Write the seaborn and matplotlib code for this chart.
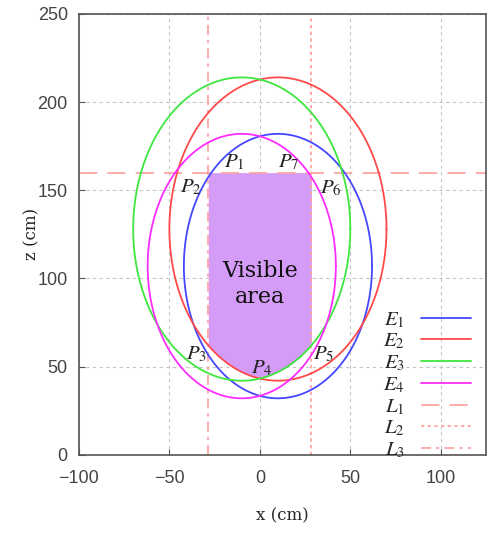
import numpy as np
import pandas as pd
import matplotlib
matplotlib.use("Agg")
import matplotlib.pyplot as plt
import seaborn as sns

# ellipse parameters (center x, center z, semi-axis x, semi-axis z)
ell_names = ["$E_1$", "$E_2$", "$E_3$", "$E_4$"]
ell_cx = [10, 10, -10, -10]
ell_cz = [107, 128, 128, 107]
ell_ax = [52, 60, 60, 52]
ell_bz = [75, 86, 86, 75]
ell_colors = ["#4646ff", "#ff4a4a", "#3ee63e", "#ff2cff"]

# boundary lines
line_names = ["$L_1$", "$L_2$", "$L_3$"]
L1_z = 160
L2_x = 28.5
L3_x = -28.5
line_color = "#ff9e9e"

# point labels
pt_labels = ["$P_1$", "$P_2$", "$P_3$", "$P_4$", "$P_5$", "$P_6$", "$P_7$"]
pt_x = [-14, -38, -35, 1, 35, 39, 16]
pt_z = [166, 152, 57, 49, 57, 151, 166]

sns.set_style("white")
plt.rcParams["mathtext.fontset"] = "stix"

fig = plt.figure(figsize=(4.87, 5.35), dpi=100)
ax = fig.add_axes([0.162, 0.150, 0.836, 0.824])

# visible area = intersection of all ellipses inside the three lines
xs = np.linspace(L3_x, L2_x, 400)
lower = np.full_like(xs, -np.inf)
upper = np.full_like(xs, L1_z, dtype=float)
for cx, cz, a, b in zip(ell_cx, ell_cz, ell_ax, ell_bz):
    h = b * np.sqrt(np.clip(1 - ((xs - cx) / a) ** 2, 0, None))
    lower = np.maximum(lower, cz - h)
    upper = np.minimum(upper, cz + h)
ax.fill_between(xs, lower, upper, color="#d49cf6", lw=0, zorder=1)

t = np.linspace(0, 2 * np.pi, 400)
for name, cx, cz, a, b, c in zip(ell_names, ell_cx, ell_cz, ell_ax, ell_bz, ell_colors):
    df = pd.DataFrame({"x": cx + a * np.cos(t), "z": cz + b * np.sin(t)})
    sns.lineplot(data=df, x="x", y="z", sort=False, estimator=None,
                 color=c, lw=1.3, ax=ax, label=name, zorder=3)

ax.axhline(L1_z, color=line_color, lw=1.2, ls=(0, (11, 6)), label=line_names[0], zorder=2)
ax.axvline(L2_x, color=line_color, lw=1.2, ls=(0, (2, 2)), label=line_names[1], zorder=2)
ax.axvline(L3_x, color=line_color, lw=1.2, ls=(0, (6, 3, 2, 3)), label=line_names[2], zorder=2)

for lab, x, z in zip(pt_labels, pt_x, pt_z):
    ax.text(x, z, lab, fontsize=15, ha="center", va="center", color="#222222", zorder=5)

ax.text(0, 97, "Visible\narea", fontsize=16, ha="center", va="center",
        family="DejaVu Serif", color="#111111", linespacing=1.25, zorder=5)

ax.set_xlim(-100, 125)
ax.set_ylim(0, 250)
ax.set_xticks([-100, -50, 0, 50, 100])
ax.set_yticks([0, 50, 100, 150, 200, 250])
ax.grid(True, color="#c4c4c4", ls=(0, (3, 3)), lw=0.8)
ax.set_axisbelow(True)
for s in ax.spines.values():
    s.set_color("#555555")
    s.set_linewidth(1.2)
ax.tick_params(direction="in", length=4, color="#555555", labelsize=13,
               labelcolor="#444444", bottom=True, left=True)
ax.tick_params(axis="x", pad=11)
ax.tick_params(axis="y", pad=8)
for lbl in ax.get_xticklabels() + ax.get_yticklabels():
    lbl.set_family("Liberation Sans")

ax.set_xlabel("x (cm)", family="DejaVu Serif", fontsize=12, labelpad=15)
ax.set_ylabel("z (cm)", family="DejaVu Serif", fontsize=12, labelpad=-2)

ax.legend(loc="lower right", bbox_to_anchor=(1.0, -0.045), frameon=False,
          markerfirst=False, fontsize=15, handlelength=2.4, handletextpad=0.8,
          labelspacing=0.05, borderaxespad=0.3)

fig.savefig("out.png", dpi=100)
